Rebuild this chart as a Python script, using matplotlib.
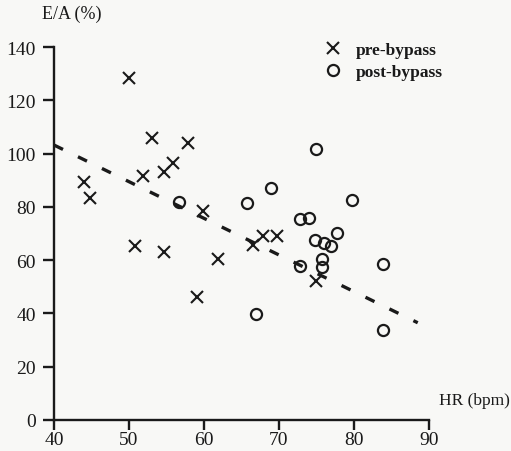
import matplotlib
matplotlib.use("Agg")
import matplotlib.pyplot as plt
import numpy as np

# data
pre_hr = [50.0, 53.0, 57.9, 44.0, 44.8, 51.9, 54.6, 55.8, 59.8, 50.8,
          54.6, 61.9, 59.1, 66.6, 67.9, 69.8, 74.9]
pre_ea = [128.5, 106, 104, 89.5, 83.5, 91.4, 93, 96.6, 78.3, 65.2,
          62.9, 60.3, 46, 65.5, 69, 69, 52]

post_hr = [56.6, 65.8, 74.9, 68.9, 79.7, 72.8, 74.0, 77.8, 74.8, 76.0,
           77.0, 75.8, 75.8, 72.8, 83.9, 66.9, 83.9]
post_ea = [82, 81.6, 101.9, 86.9, 82.4, 75.3, 75.7, 70, 67.4, 66.3,
           65.2, 60.3, 57.3, 57.7, 58.4, 39.7, 33.7]

# regression line end points
fit_hr = [40, 88.5]
fit_ea = [103.2, 36.5]

xticks = [40, 50, 60, 70, 80, 90]
yticks = [0, 20, 40, 60, 80, 100, 120, 140]

ink = "#1a1a1a"
plt.rcParams['font.family'] = ['Liberation Serif', 'DejaVu Serif']

fig = plt.figure(figsize=(5.11, 4.52), dpi=100, facecolor="#f8f8f6")
ax = fig.add_axes([0.1057, 0.0686, 0.7338, 0.8252])
ax.set_facecolor("#f8f8f6")

ax.plot(fit_hr, fit_ea, color=ink, lw=2.4, dashes=(3, 5), zorder=2)
ax.plot(pre_hr, pre_ea, ls="none", marker="x", ms=8.5, mew=1.5, color=ink,
        label="pre-bypass", clip_on=False, zorder=3)
ax.plot(post_hr, post_ea, ls="none", marker="o", ms=8, mew=1.6, mfc="none",
        mec=ink, label="post-bypass", clip_on=False, zorder=3)

ax.set_xlim(40, 90)
ax.set_ylim(0, 140)
ax.set_xticks(xticks)
ax.set_yticks(yticks)

for s in ["top", "right"]:
    ax.spines[s].set_visible(False)
for s in ["left", "bottom"]:
    ax.spines[s].set_linewidth(1.7)
    ax.spines[s].set_color(ink)

ax.tick_params(axis="y", direction="out", length=8, width=1.7, colors=ink,
               labelsize=14, pad=5)
ax.tick_params(axis="x", direction="out", length=7, width=1.7, colors=ink,
               labelsize=14, pad=1)

ax.text(-0.033, 1.068, "E/A (%)", transform=ax.transAxes, fontsize=13,
        color=ink, ha="left", va="bottom")
fig.text(0.998, 0.096, "HR (bpm)", fontsize=12.5, color=ink,
         ha="right", va="bottom")

ax.legend(loc="upper left", bbox_to_anchor=(0.68, 1.055), frameon=False,
          handlelength=1.0, handletextpad=0.8, labelspacing=0.3,
          prop={"size": 12.5, "weight": "bold"}, labelcolor=ink)

fig.savefig("out.png", dpi=100, facecolor=fig.get_facecolor())
